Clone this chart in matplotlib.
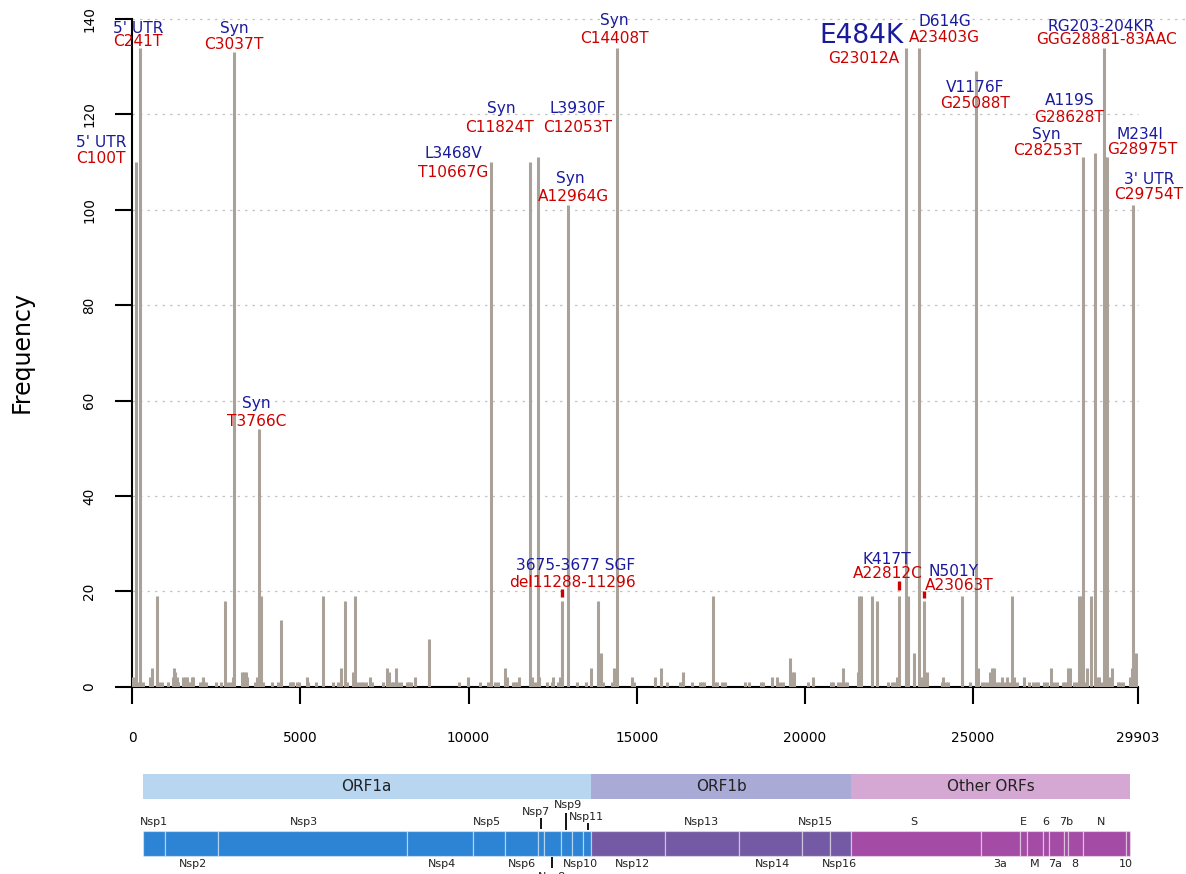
import matplotlib
matplotlib.use('Agg')
import matplotlib.pyplot as plt

W, H = 1186, 874
GENOME_LEN = 29903

BAR = '#aaa198'
BLUE = '#1a1a9c'
RED = '#cd0000'
GRID = '#c4c4c4'
INK = '#222222'

# ── mutation frequencies along the genome ────────────────────────
positions = [
    30, 100, 160, 241, 327, 526, 576, 734, 803, 873, 1052, 1200, 1240, 1270,
    1339, 1369, 1517, 1567, 1617, 1666, 1716, 1765, 1815, 2013, 2063, 2093,
    2132, 2192, 2489, 2637, 2756, 2855, 2926, 2985, 3037, 3271, 3321, 3371,
    3420, 3648, 3698, 3766, 3827, 3877, 4145, 4323, 4422, 4689, 4739, 4788,
    4887, 4966, 5185, 5233, 5462, 5661, 5958, 6107, 6196, 6324, 6374, 6553,
    6622, 6720, 6791, 6869, 6949, 7068, 7118, 7463, 7582, 7642, 7712, 7761,
    7841, 7910, 7980, 8158, 8236, 8287, 8406, 8822, 9714, 9991, 10338, 10585,
    10667, 10784, 10883, 11082, 11132, 11329, 11379, 11429, 11507, 11824,
    11876, 11974, 12053, 12093, 12321, 12470, 12519, 12667, 12717, 12777,
    12964, 13213, 13490, 13639, 13856, 13936, 13986, 14254, 14313, 14408,
    14867, 14917, 15542, 15720, 15908, 16285, 16336, 16385, 16633, 16880,
    16949, 17008, 17257, 17326, 17395, 17543, 17623, 18218, 18346, 18684,
    18763, 19030, 19178, 19259, 19357, 19556, 19606, 19675, 20100, 20249,
    20775, 20844, 20993, 21072, 21142, 21191, 21260, 21569, 21608, 21658,
    21985, 22134, 22461, 22598, 22658, 22729, 22806, 23012, 23074, 23252,
    23403, 23472, 23540, 23620, 24067, 24115, 24186, 24263, 24661, 24908,
    25088, 25137, 25274, 25354, 25434, 25503, 25572, 25621, 25720, 25779,
    25850, 25928, 26017, 26097, 26166, 26226, 26296, 26523, 26672, 26791,
    26870, 26939, 27118, 27207, 27308, 27406, 27504, 27664, 27733, 27813,
    27872, 28009, 28080, 28149, 28199, 28253, 28307, 28378, 28506, 28628,
    28675, 28744, 28803, 28881, 28922, 28975, 29041, 29140, 29299, 29368,
    29448, 29665, 29716, 29754, 29840,
]
frequency = [
    2, 110, 1, 134, 1, 2, 4, 19, 1, 1, 1, 2, 4, 3,
    2, 1, 2, 2, 2, 1, 1, 2, 2, 1, 1, 2,
    1, 1, 1, 1, 18, 1, 1, 2, 133, 3, 3, 3,
    2, 1, 2, 54, 19, 1, 1, 1, 14, 1, 1, 1,
    1, 1, 2, 1, 1, 19, 1, 1, 4, 18, 1, 3,
    19, 1, 1, 1, 1, 2, 1, 1, 4, 3, 1, 1,
    4, 1, 1, 1, 1, 1, 2, 10, 1, 2, 1, 1,
    110, 1, 1, 4, 2, 1, 1, 1, 2, 110,
    2, 1, 111, 2, 1, 1, 2, 1, 2, 18,
    101, 1, 1, 4, 18, 7, 1, 1, 4, 134,
    2, 1, 2, 4, 1, 1, 1, 3, 1, 1,
    1, 1, 19, 1, 1, 1, 1, 1, 1, 1,
    1, 2, 2, 1, 1, 6, 3, 3, 1, 2,
    1, 1, 1, 1, 4, 1, 1, 3, 19, 19,
    19, 18, 1, 1, 1, 2, 19, 134, 19, 7,
    134, 2, 18, 3, 1, 2, 1, 1, 19, 1,
    129, 4, 1, 1, 1, 3, 4, 4, 1, 1,
    2, 1, 2, 1, 19, 2, 1, 2, 1, 1,
    1, 1, 1, 1, 4, 1, 1, 1, 1, 4,
    4, 1, 1, 19, 19, 111, 1, 4, 19, 112,
    2, 2, 1, 134, 111, 111, 2, 4, 1, 1,
    1, 2, 4, 101, 7,
]

# highlighted low-frequency mutations (red marks)
mark_pos = [12777, 22806, 23540]
mark_lo = [18.8, 20.3, 18.5]
mark_hi = [20.4, 22.1, 20.1]

# ── labels: amino-acid change (blue) / nucleotide change (red) ───
aa_labels = ["5' UTR", "5' UTR", "Syn", "Syn", "L3468V", "Syn", "L3930F",
             "Syn", "Syn", "E484K", "D614G", "RG203-204KR", "V1176F",
             "A119S", "Syn", "M234I", "3' UTR", "3675-3677 SGF", "K417T",
             "N501Y"]
nt_labels = ["C100T", "C241T", "C3037T", "T3766C", "T10667G", "C11824T",
             "C12053T", "A12964G", "C14408T", "G23012A", "A23403G",
             "GGG28881-83AAC", "G25088T", "G28628T", "C28253T", "G28975T",
             "C29754T", "del11288-11296", "A22812C", "A23063T"]
# label placement (x in bp, y in frequency units, text baselines)
aa_x = [-931, 170, 3033, 3699, 9551, 10985, 13232, 13015, 14338, 21688,
        24155, 28803, 25066, 27882, 27168, 29963, 30239, 13184, 22431, 24411]
aa_y = [113.1, 137.0, 137.0, 58.5, 110.8, 120.2, 120.2, 105.6, 138.75, 134.9,
        138.5, 137.55, 124.6, 122.0, 114.85, 114.85, 105.3, 24.5, 25.7, 23.3]
nt_x = [-931, 170, 3033, 3699, 9551, 10913, 13232, 13113, 14338, 21757,
        24155, 28973, 25066, 27852, 27207, 30031, 30210, 13083, 22461, 24581]
nt_y = [109.9, 134.4, 133.65, 54.7, 106.9, 116.25, 116.25, 101.8, 135.0, 130.7,
        135.2, 134.7, 121.4, 118.3, 111.5, 111.6, 102.2, 20.97, 22.7, 20.3]

# ── genome annotation track ──────────────────────────────────────
orf_names = ['ORF1a', 'ORF1b', 'Other ORFs']
orf_start = [309, 13630, 21379]
orf_end = [13630, 21379, 29672]
orf_colors = ['#b9d6f0', '#aaaad6', '#d5a8d4']

gene_names = ['Nsp1', 'Nsp2', 'Nsp3', 'Nsp4', 'Nsp5', 'Nsp6', 'Nsp7', 'Nsp8',
              'Nsp9', 'Nsp10', 'Nsp11', 'Nsp12', 'Nsp13', 'Nsp14', 'Nsp15',
              'Nsp16', 'S', '3a', 'E', 'M', '6', '7a', '7b', '8', 'N', '10']
gene_start = [309, 972, 2557, 8177, 10121, 11091, 12072, 12250, 12738, 13083,
              13410, 13630, 15848, 18034, 19919, 20740, 21379, 25226, 26398,
              26603, 27091, 27242, 27700, 27828, 28253, 29544]
gene_end = gene_start[1:] + [29672]
gene_group = [0] * 11 + [1] * 5 + [2] * 10
gene_colors = ['#2d84d5', '#745aa4', '#a34ba5']

# label placement: x in bp, y in track pixels, whether a pointer tick is drawn
gene_lx = [645, 1796, 5114, 9218, 10556, 11578, 11995, 12470, 12946, 13312,
           13511, 14858, 16937, 19045, 20323, 21040, 23243, 25812, 26496,
           26826, 27168, 27444, 27774, 28018, 28797, 29543]
gene_ly = [51.7, 10, 51.7, 10, 51.7, 10, 62.3, -3, 69, 10, 57.3, 10, 51.7, 10,
           51.7, 10, 51.7, 10, 51.7, 10, 51.7, 10, 51.7, 10, 51.7, 10]
tick_genes = {'Nsp7': (12152, 45, 56), 'Nsp8': (12488, 6, 17),
              'Nsp9': (12887, 44, 61), 'Nsp11': (13535, 44, 51)}

fig = plt.figure(figsize=(W / 100, H / 100), dpi=100, facecolor='white')
AX_L = 132.3 / W
AX_W = (1138.0 - 132.3) / W

# ── main frequency plot ──────────────────────────────────────────
ax = fig.add_axes([AX_L, 187.3 / H, AX_W, 667.7 / H])
ax.set_xlim(0, GENOME_LEN)
ax.set_ylim(0, 140)

for v in range(20, 141, 20):
    x_end = 31330 if v == 140 else GENOME_LEN
    ax.hlines(v, 0, x_end, colors=GRID, linestyles=(0, (2, 4)), linewidth=0.9,
              zorder=1, clip_on=False)

ax.vlines(positions, 0, frequency, colors=BAR, linewidth=2.2,
          capstyle='butt', zorder=3)
ax.vlines(mark_pos, mark_lo, mark_hi, colors=RED, linewidth=2.4,
          capstyle='butt', zorder=4)

for i in range(len(aa_labels)):
    size = 19 if aa_labels[i] == 'E484K' else 11.1
    ax.text(aa_x[i], aa_y[i], aa_labels[i], color=BLUE, fontsize=size,
            ha='center', va='baseline', zorder=5)
    ax.text(nt_x[i], nt_y[i], nt_labels[i], color=RED, fontsize=11.1,
            ha='center', va='baseline', zorder=5)

for side in ['top', 'right']:
    ax.spines[side].set_visible(False)
ax.spines['left'].set_bounds(0, 140)
ax.spines['bottom'].set_bounds(0, GENOME_LEN)
for side in ['left', 'bottom']:
    ax.spines[side].set_linewidth(1.5)

ax.set_xticks([0, 5000, 10000, 15000, 20000, 25000, GENOME_LEN])
ax.set_yticks(range(0, 141, 20))
ax.tick_params(axis='both', length=12, width=1.5, direction='out')
ax.tick_params(axis='x', labelsize=9.8, pad=20)
ax.tick_params(axis='y', labelsize=9.8, pad=14, labelrotation=90)
plt.setp(ax.get_yticklabels(), va='center')

fig.text(22 / W, 1 - 352 / H, 'Frequency', rotation=90, fontsize=17,
         ha='center', va='center')

# ── genome track ─────────────────────────────────────────────────
gx = fig.add_axes([AX_L, 0, AX_W, 110 / H])
gx.set_xlim(0, GENOME_LEN)
gx.set_ylim(0, 110)
gx.axis('off')

for name, s, e, c in zip(orf_names, orf_start, orf_end, orf_colors):
    gx.barh(87.65, e - s, left=s, height=24.7, color=c, edgecolor='none')
    gx.text((s + e) / 2, 87.65, name, fontsize=11, color=INK,
            ha='center', va='center')

for i, name in enumerate(gene_names):
    s, e = gene_start[i], gene_end[i]
    gx.barh(30.65, e - s, left=s, height=25.3,
            color=gene_colors[gene_group[i]],
            edgecolor=(1, 1, 1, 0.45), linewidth=0.9)
    gx.text(gene_lx[i], gene_ly[i], name, fontsize=8, color=INK,
            ha='center', va='center', clip_on=False)
    if name in tick_genes:
        tx, y0, y1 = tick_genes[name]
        gx.plot([tx, tx], [y0, y1], color='black', linewidth=1.3,
                solid_capstyle='butt')

plt.savefig('out.png', dpi=100, facecolor='white')
plt.close()
